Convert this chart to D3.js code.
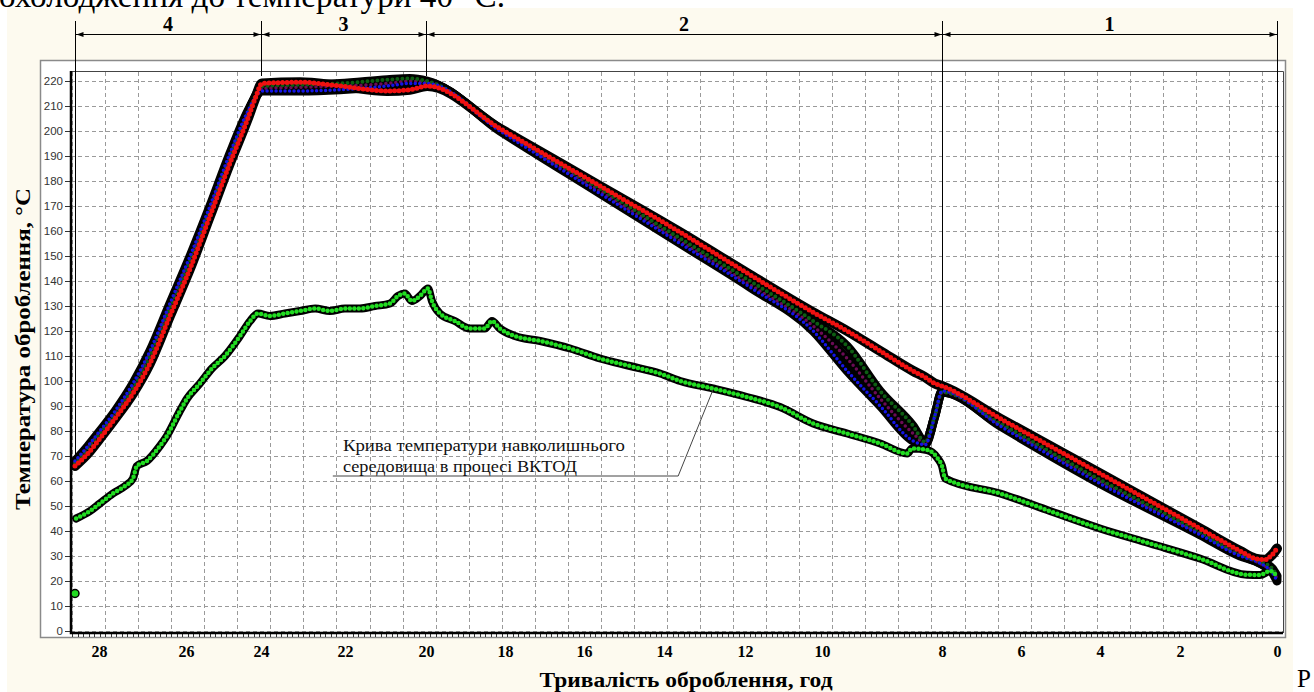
<!DOCTYPE html>
<html>
<head>
<meta charset="utf-8">
<script src="https://cdn.jsdelivr.net/npm/d3@7"></script>
<style>
  body { margin: 0; background: #fff; }
  svg { display: block; }
</style>
</head>
<body>
<div id="chart"></div>
<script>
// time, hours (runs from the start of the process on the left to 0 on the right)
var heatHours = [28.65, 28.30, 27.98, 27.63, 27.22, 26.83, 26.37, 25.89, 25.36, 24.83, 24.35, 24.13, 23.98];
var holdHours = [23.07, 22.12, 20.96, 20.40, 19.97];
var coolHours = [18.13, 15.6, 13.6, 11.87, 10.23, 9.58, 9.03, 8.48, 8.28, 8.12, 8.0];
var endHours  = [6.53, 4.0, 1.59, 0.76, 0.45, 0.25, 0.10, 0];
var mainHours = heatHours.concat(holdHours, coolHours, endHours);

// temperatures, °C, one value per entry of mainHours
var redTemps    = [66, 71, 77, 85, 95, 107, 126, 145, 166, 187, 205, 214, 219,
                   219.5, 218, 216, 216.5, 218,
                   201, 178, 159.5, 142.5, 127.5, 120, 112, 104, 101.5, 99, 98,
                   85, 63, 41, 32, 29, 28.5, 30.5, 33];
var blueTemps   = [68, 74, 80, 88, 99, 112, 131, 150, 170, 191, 208, 214, 216,
                   216, 216.5, 218, 219, 219,
                   200, 175, 155, 137.5, 120, 104, 90, 76, 74.5, 86, 96,
                   82, 59, 38.5, 30, 28, 26, 23.5, 20];
var greenTemps  = [67, 73, 79, 86.5, 97, 110, 129, 148, 168.5, 189.5, 207, 214.5, 218,
                   218.5, 219, 220.5, 221, 220,
                   201, 177, 157, 140, 124, 114, 96, 82, 75.5, 86, 95.5,
                   83, 60.5, 39.5, 30.5, 28.5, 27, 25, 22];
var purpleTemps = [67.5, 73.5, 79.5, 87, 98, 111, 130, 149, 169, 190, 207.5, 214, 217,
                   217.5, 218, 219, 220, 219.5,
                   200.5, 176, 156, 138.5, 122, 109, 93, 79, 75, 86, 95.5,
                   82.5, 60, 39, 30.5, 28, 26, 24, 21];

// ambient temperature
var ambientHours = [28.62, 28.24, 27.98, 27.68, 27.40, 27.22, 27.13, 26.90, 26.60, 26.44, 26.14, 25.97,
                    25.63, 25.31, 24.96, 24.56, 24.29, 24.08, 23.79, 23.43, 23.07, 22.71, 22.36, 22.0,
                    21.63, 21.26, 20.89, 20.69, 20.52, 20.35, 20.15, 19.95, 19.85, 19.65, 19.27, 18.89,
                    18.51, 18.33, 18.13, 17.75, 17.11, 16.35, 15.6, 14.85, 14.1, 13.6, 12.79, 11.95,
                    11.09, 10.23, 9.58, 9.03, 8.58, 8.50, 8.25, 8.07, 8.0, 7.92, 6.53, 5.27,
                    4.0, 2.75, 1.59, 0.62, 0.35, 0.14, 0];
var ambientTemps = [45, 48, 51, 55, 58, 61, 66, 68, 74, 78, 88, 93,
                    99, 105, 110, 118, 124, 127, 126, 127, 128, 129, 128, 129,
                    129, 130, 131, 134, 135, 132, 134, 137, 132, 127, 124, 121,
                    121, 124, 121, 118, 116, 113, 109, 106, 103, 100, 97, 93.6,
                    89.6, 83, 79, 75, 71, 73, 72.4, 69, 66, 61, 55, 48,
                    41, 35, 29, 22.5, 22.4, 24, 22];
var strayPoint = [28.65, 15];

// axes and stages
var xTicks = [28, 26, 24, 22, 20, 18, 16, 14, 12, 10, 8, 6, 4, 2, 0];
var yTicks = d3.range(0, 221, 10);
var phaseNames = ["4", "3", "2", "1"];
var phaseBounds = [28.65, 24, 20, 8, 0];
var phaseLineEnds = [69, 222, 222, 99, 34];

var noteLines = ["Крива температури навколишнього", "середовища в процесі ВКТОД"];
var noteLeader = [[22.29, 62], [13.65, 62], [12.79, 96.5]];

var W = 1314, H = 692;
var serif = "'Liberation Serif', 'Times New Roman', serif";
var sans = "'Liberation Sans', Arial, sans-serif";

var svg = d3.select("#chart").append("svg")
    .attr("width", W).attr("height", H);

svg.append("rect").attr("width", W).attr("height", H).attr("fill", "#fff");
svg.append("rect").attr("x", 7).attr("y", 8).attr("width", 1286).attr("height", H - 8)
    .attr("fill", "#fdfaef");

// cut-off line of the page text above the figure
svg.append("text").attr("x", -1).attr("y", 7)
    .attr("textLength", 506).attr("lengthAdjust", "spacingAndGlyphs")
    .style("font-family", serif).style("font-size", "33px").attr("fill", "#000")
    .text("охолодження до температури 40 °С.");
svg.append("text").attr("x", 1297).attr("y", 687)
    .style("font-family", serif).style("font-size", "25px").attr("fill", "#000")
    .text("Р");

// chart frame
svg.append("rect").attr("x", 40.5).attr("y", 60.5).attr("width", 1245).attr("height", 577)
    .attr("fill", "#fff").attr("stroke", "#8a8a8a").attr("stroke-width", 1.5);
svg.append("path").attr("d", "M70,71.5H1283.5V633")
    .attr("fill", "none").attr("stroke", "#444").attr("stroke-width", 1);

// time scale: the printed hour labels are not evenly spaced, so the scale is piecewise
var x = d3.scaleLinear()
    .domain([28.65].concat(xTicks))
    .range([75, 99, 186, 261, 345, 426, 505, 584, 664, 745, 822, 942, 1021, 1100, 1180, 1277]);
var y = d3.scaleLinear().domain([0, 220]).range([631, 81]);
// the logger's own vertical grid
var gx = d3.scaleLinear().domain([0, 36]).range([72, 1262]);

var grid = svg.append("g").attr("stroke", "#9a9a9a").attr("stroke-width", 1)
    .attr("stroke-dasharray", "4,3");
grid.selectAll(".hg").data(yTicks).enter().append("line")
    .attr("x1", 71).attr("x2", 1283)
    .attr("y1", function(d) { return Math.round(y(d)) + 0.5; })
    .attr("y2", function(d) { return Math.round(y(d)) + 0.5; });
grid.selectAll(".vg").data(d3.range(0, 37)).enter().append("line")
    .attr("y1", 72).attr("y2", 632)
    .attr("x1", function(d) { return Math.round(gx(d)) + 0.5; })
    .attr("x2", function(d) { return Math.round(gx(d)) + 0.5; });

// minor ticks under the time axis
svg.append("g").selectAll("line").data(d3.range(0, 36 * 6 + 1)).enter().append("line")
    .attr("x1", function(d) { return Math.round(gx(d / 6)) + 0.5; })
    .attr("x2", function(d) { return Math.round(gx(d / 6)) + 0.5; })
    .attr("y1", 633).attr("y2", 637)
    .attr("stroke", "#333").attr("stroke-width", 1);

// y axis
var yAxis = svg.append("g").attr("transform", "translate(70,0)")
    .call(d3.axisLeft(y).tickValues(yTicks).tickSize(5).tickPadding(2));
yAxis.select(".domain").remove();
yAxis.selectAll("line").attr("stroke", "#333");
yAxis.selectAll("text").style("font-family", sans).style("font-size", "11.5px").attr("fill", "#333");

// x axis labels
var xAxis = svg.append("g").attr("transform", "translate(0,633)")
    .call(d3.axisBottom(x).tickValues(xTicks).tickSize(0).tickPadding(13).tickFormat(d3.format("d")));
xAxis.select(".domain").remove();
xAxis.selectAll("text").style("font-family", serif).style("font-size", "16px")
    .style("font-weight", "bold").attr("fill", "#000");

// heavy axis lines
svg.append("path").attr("d", "M71,71V633H1283")
    .attr("fill", "none").attr("stroke", "#000").attr("stroke-width", 2.5);

// series
var line = d3.line()
    .x(function(d) { return x(d[0]); })
    .y(function(d) { return y(d[1]); })
    .curve(d3.curveMonotoneX);

function pairs(hours, temps) {
  return hours.map(function(h, i) { return [h, temps[i]]; });
}

var series = [
  {pts: pairs(mainHours, purpleTemps), color: "#6b0b55", base: 9, dot: 3.5, gap: 5},
  {pts: pairs(mainHours, greenTemps), color: "#0d5e12", base: 9, dot: 4, gap: 5},
  {pts: pairs(mainHours, blueTemps), color: "#1414e6", base: 9, dot: 3.5, gap: 4.5},
  {pts: pairs(mainHours, redTemps), color: "#f01010", base: 10, dot: 5, gap: 4.5},
  {pts: pairs(ambientHours, ambientTemps), color: "#22dc22", base: 8, dot: 4.5, gap: 4.5}
];

var plot = svg.append("g");
plot.selectAll(".base").data(series).enter().append("path")
    .attr("d", function(s) { return line(s.pts); })
    .attr("fill", "none").attr("stroke", "#000")
    .attr("stroke-width", function(s) { return s.base; })
    .attr("stroke-linejoin", "round").attr("stroke-linecap", "round");
plot.selectAll(".dots").data(series).enter().append("path")
    .attr("d", function(s) { return line(s.pts); })
    .attr("fill", "none").attr("stroke", function(s) { return s.color; })
    .attr("stroke-width", function(s) { return s.dot; })
    .attr("stroke-dasharray", function(s) { return "0," + s.gap; })
    .attr("stroke-linecap", "round");

plot.append("circle").attr("cx", x(strayPoint[0])).attr("cy", y(strayPoint[1])).attr("r", 4)
    .attr("fill", "#22dc22").attr("stroke", "#000").attr("stroke-width", 1.5);

// stage dimension lines
var stageG = svg.append("g");
stageG.selectAll(".bound").data(phaseBounds).enter().append("line")
    .attr("x1", function(d) { return Math.round(x(d)) + 0.5; })
    .attr("x2", function(d) { return Math.round(x(d)) + 0.5; })
    .attr("y1", 21)
    .attr("y2", function(d, i) { return y(phaseLineEnds[i]); })
    .attr("stroke", "#000").attr("stroke-width", 1);
stageG.append("line").attr("x1", x(phaseBounds[0])).attr("x2", x(phaseBounds[4]))
    .attr("y1", 34.5).attr("y2", 34.5).attr("stroke", "#000").attr("stroke-width", 1);

var arrows = [];
phaseNames.forEach(function(n, i) {
  arrows.push({at: x(phaseBounds[i]), dir: -1});
  arrows.push({at: x(phaseBounds[i + 1]), dir: 1});
});
stageG.selectAll(".arrow").data(arrows).enter().append("path")
    .attr("d", function(a) {
      var tip = Math.round(a.at) + 0.5 - a.dir * 1;
      return "M" + tip + ",34.5L" + (tip - a.dir * 7) + ",32L" + (tip - a.dir * 7) + ",37Z";
    })
    .attr("fill", "#000");

stageG.selectAll(".pname").data(phaseNames).enter().append("text")
    .attr("x", function(d, i) { return (x(phaseBounds[i]) + x(phaseBounds[i + 1])) / 2; })
    .attr("y", 31).attr("text-anchor", "middle")
    .style("font-family", serif).style("font-size", "20px").style("font-weight", "bold")
    .text(function(d) { return d; });

// annotation for the ambient curve
svg.append("path")
    .attr("d", d3.line().x(function(d) { return x(d[0]); }).y(function(d) { return y(d[1]); })(noteLeader))
    .attr("fill", "none").attr("stroke", "#444").attr("stroke-width", 1);
var noteWidths = [282, 234];
svg.selectAll(".note").data(noteLines).enter().append("text")
    .attr("x", x(22.05))
    .attr("y", function(d, i) { return y(72 - i * 8.3); })
    .attr("textLength", function(d, i) { return noteWidths[i]; })
    .attr("lengthAdjust", "spacingAndGlyphs")
    .style("font-family", serif).style("font-size", "16px").attr("fill", "#111")
    .text(function(d) { return d; });

// axis titles
svg.append("text")
    .attr("transform", "translate(30,349) rotate(-90)")
    .attr("text-anchor", "middle")
    .attr("textLength", 322).attr("lengthAdjust", "spacingAndGlyphs")
    .style("font-family", serif).style("font-size", "22px").style("font-weight", "bold")
    .text("Температура оброблення, °С");
svg.append("text")
    .attr("x", 686).attr("y", 687).attr("text-anchor", "middle")
    .attr("textLength", 293).attr("lengthAdjust", "spacingAndGlyphs")
    .style("font-family", serif).style("font-size", "20px").style("font-weight", "bold")
    .text("Тривалість оброблення, год");
</script>
</body>
</html>
